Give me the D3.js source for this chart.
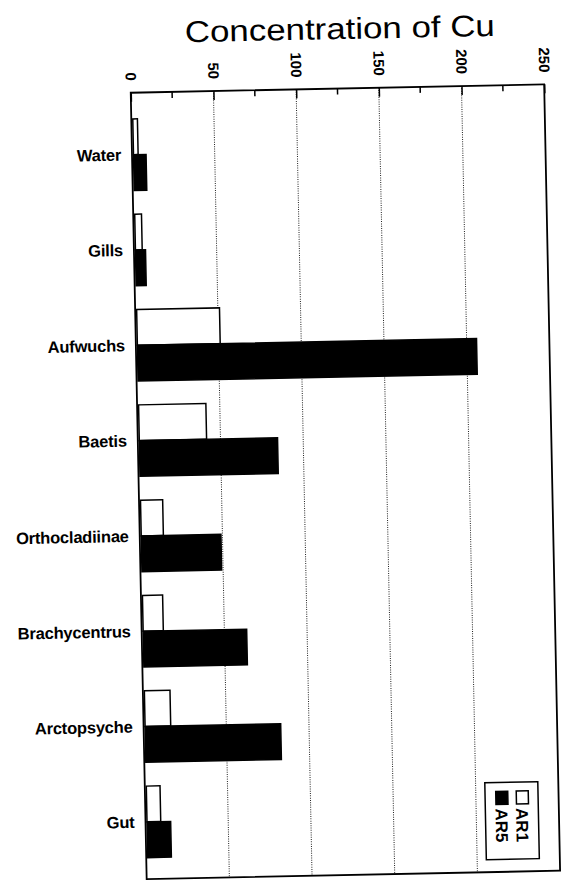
<!DOCTYPE html>
<html>
<head>
<meta charset="utf-8">
<script src="https://cdn.jsdelivr.net/npm/d3@7"></script>
<style>
  html, body { margin: 0; padding: 0; background: #fff; }
  svg { display: block; }
  text { font-family: "Liberation Sans", Arial, Helvetica, sans-serif; fill: #000; }
</style>
</head>
<body>
<svg id="chart" width="571" height="883"></svg>
<script>
// ---- data ----
const categories = ["Water", "Gills", "Aufwuchs", "Baetis", "Orthocladiinae", "Brachycentrus", "Arctopsyche", "Gut"];
const ar1Values = [3.7, 5.0, 51, 41.6, 14.3, 13.1, 16.4, 9.2];
const ar5Values = [8.5, 7.0, 206, 84.5, 49.1, 63.5, 82.9, 15.2];
const seriesNames = ["AR1", "AR5"];
const seriesFill = ["#ffffff", "#000000"];
const majorTicks = [0, 50, 100, 150, 200, 250];
const minorTicks = [25, 75, 125, 175, 225];
const gridValues = [50, 100, 150, 200];
const titleText = "Concentration of Cu";

// ---- layout ----
const W = 413.5, H = 786.5;
const tilt = -1.16;

const svg = d3.select("#chart");

// title
svg.append("text")
  .attr("transform", `translate(340,39) rotate(${tilt})`)
  .attr("text-anchor", "middle")
  .attr("font-size", 30)
  .attr("textLength", 310)
  .attr("lengthAdjust", "spacingAndGlyphs")
  .text(titleText);

const g = svg.append("g")
  .attr("transform", `translate(130.75,92.75) rotate(${tilt})`);

const x = d3.scaleLinear().domain([0, 250]).range([0, W]);
const y = d3.scaleBand().domain(categories).range([0, H])
  .paddingInner(0.25).paddingOuter(0.25).align(0.55);
const ySub = d3.scaleBand().domain(seriesNames).range([0, y.bandwidth()]).padding(0);

// grid lines (dotted)
g.selectAll("line.grid").data(gridValues).join("line")
  .attr("class", "grid")
  .attr("x1", d => x(d)).attr("x2", d => x(d))
  .attr("y1", 0).attr("y2", H)
  .attr("stroke", "#222").attr("stroke-width", 1)
  .attr("stroke-dasharray", "1,1.3");

// top axis with rotated labels
const axis = d3.axisTop(x).tickValues(majorTicks).tickSize(-9).tickSizeOuter(0)
  .tickFormat(d3.format("d"));
const axG = g.append("g").call(axis);
axG.select(".domain").remove();
axG.selectAll(".tick line").attr("stroke", "#000").attr("stroke-width", 1.5);
axG.selectAll(".tick text")
  .attr("font-family", "'Liberation Sans', Arial, sans-serif")
  .attr("font-size", 15).attr("font-weight", "bold")
  .attr("transform", "translate(0,-12) rotate(90)")
  .attr("x", 0).attr("y", 0).attr("dy", "0.35em")
  .attr("text-anchor", "end");

// minor ticks
g.selectAll("line.minor").data(minorTicks).join("line")
  .attr("class", "minor")
  .attr("x1", d => x(d)).attr("x2", d => x(d))
  .attr("y1", 0).attr("y2", 6)
  .attr("stroke", "#000").attr("stroke-width", 1.5);

// bars
const groups = g.selectAll("g.cat").data(categories).join("g")
  .attr("class", "cat")
  .attr("transform", d => `translate(0,${y(d)})`);

groups.each(function (c, i) {
  const vals = [ar1Values[i], ar5Values[i]];
  d3.select(this).selectAll("rect").data(seriesNames).join("rect")
    .attr("x", x(0) + 1.5)
    .attr("y", s => ySub(s))
    .attr("width", (s, j) => Math.max(0, x(vals[j]) - x(0) - 1.5))
    .attr("height", ySub.bandwidth())
    .attr("fill", (s, j) => seriesFill[j])
    .attr("stroke", "#000").attr("stroke-width", 1.5);
});

// category labels
g.selectAll("text.cat").data(categories).join("text")
  .attr("class", "cat")
  .attr("x", -11)
  .attr("y", d => y(d) + y.bandwidth() / 2)
  .attr("dy", "0.35em")
  .attr("text-anchor", "end")
  .attr("font-size", 16.5).attr("font-weight", "bold")
  .attr("letter-spacing", -0.2)
  .text(d => d);

// frame
g.append("rect")
  .attr("x", 0).attr("y", 0).attr("width", W).attr("height", H)
  .attr("fill", "none").attr("stroke", "#000").attr("stroke-width", 1.8);

// legend (rotated 90 degrees)
const leg = g.append("g").attr("transform", `translate(393,697) rotate(90)`);
leg.append("rect").attr("x", 0).attr("y", 0).attr("width", 77).attr("height", 53)
  .attr("fill", "#fff").attr("stroke", "#000").attr("stroke-width", 1.5);
const legRow = d3.scaleBand().domain(seriesNames).range([6, 47]).padding(0);
const items = leg.selectAll("g.item").data(seriesNames).join("g")
  .attr("class", "item")
  .attr("transform", d => `translate(0,${legRow(d) + legRow.bandwidth() / 2})`);
items.append("rect")
  .attr("x", 9).attr("y", -6.5).attr("width", 13).attr("height", 12)
  .attr("fill", (d, i) => seriesFill[i]).attr("stroke", "#000").attr("stroke-width", 1.5);
items.append("text")
  .attr("x", 26).attr("y", 0).attr("dy", "0.35em")
  .attr("font-size", 17).attr("font-weight", "bold")
  .text(d => d);
</script>
</body>
</html>
